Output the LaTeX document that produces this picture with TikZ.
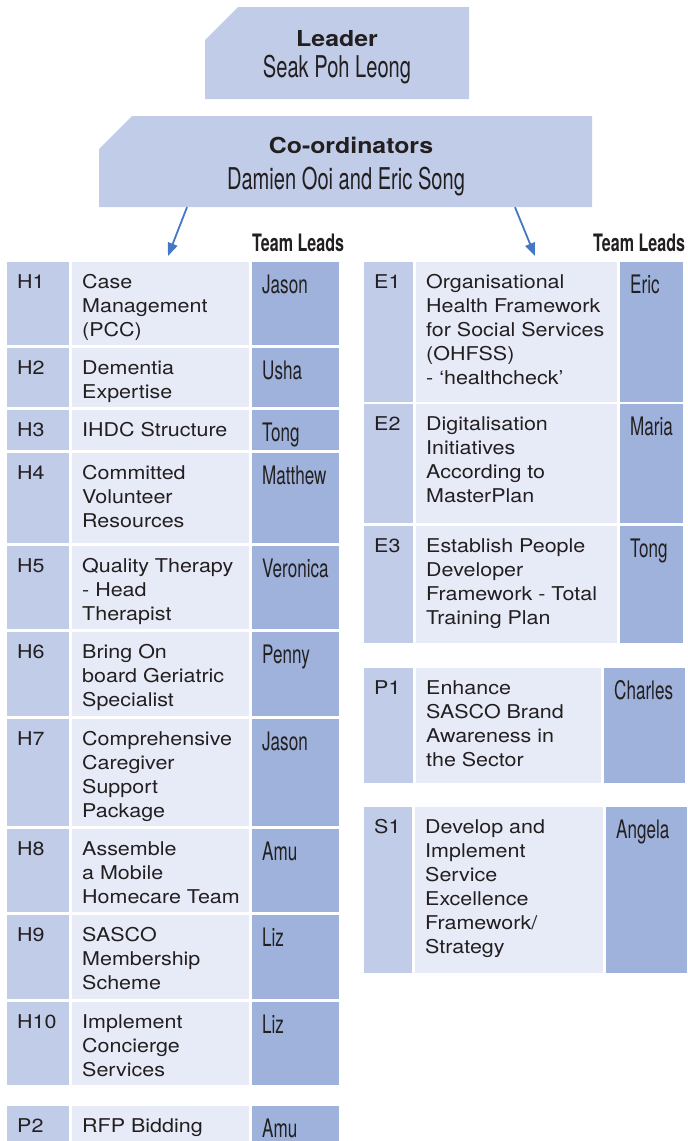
\documentclass[tikz,border=0pt]{standalone}
\usepackage{fontspec}
\setmainfont[FakeStretch=1.13]{TeX Gyre Heros}
\newfontfamily\namefont[FakeStretch=0.67]{TeX Gyre Heros}
\usepackage{xcolor}
\definecolor{ink}{RGB}{35,31,32}
\definecolor{boxblue}{RGB}{193,204,232}
\definecolor{paleblue}{RGB}{231,235,247}
\definecolor{leadblue}{RGB}{158,178,219}
\definecolor{arrowblue}{RGB}{68,119,196}
\usepackage{tikz}
\usetikzlibrary{positioning}
\usetikzlibrary{arrows.meta}
\newcommand{\codew}{62}
\newcommand{\descw}{177}
\newcommand{\leadw}{87}
\newcommand{\cut}{33pt}
\tikzset{
    cell/.style={anchor=north west, inner sep=0pt, outer sep=0pt},
    codecell/.style={cell, fill=boxblue, minimum width=\codew pt},
    desccell/.style={cell, fill=paleblue, minimum width=\descw pt},
    leadcell/.style={cell, fill=leadblue, minimum width=\leadw pt},
    bodytext/.style={anchor=north west, align=left, inner sep=0pt, text=ink, font=\fontsize{19}{24}\selectfont},
    leadtext/.style={anchor=base west, inner sep=0pt, text=ink, font=\namefont\fontsize{25.5}{28}\selectfont},
    topbox/.style={inner sep=0pt,
        path picture={
            \fill[boxblue] (path picture bounding box.south west)
                -- ([yshift=-\cut]path picture bounding box.north west)
                -- ([xshift=\cut]path picture bounding box.north west)
                -- (path picture bounding box.north east)
                -- (path picture bounding box.south east) -- cycle;
        }
    },
    headtext/.style={anchor=base, inner sep=0pt, text=ink, font=\fontsize{22}{26}\selectfont\bfseries},
    topname/.style={anchor=base, inner sep=0pt, text=ink, font=\namefont\fontsize{30}{32}\selectfont},
    teamhead/.style={anchor=base west, inner sep=0pt, text=ink, font=\namefont\fontsize{24}{26}\selectfont\bfseries},
    flow/.style={arrowblue, line width=1.8pt, -{Triangle[length=13pt, width=10pt]}}
}
% id, x, top, bottom, code, goal, team lead
\newcommand{\goalrow}[7]{%
    \node[codecell, minimum height={(#4-#3)*1pt}] (#1-c) at (#2,#3) {};
    \node[desccell, minimum height={(#4-#3)*1pt}, right=3pt of #1-c.north east, anchor=north west] (#1-d) {};
    \node[leadcell, minimum height={(#4-#3)*1pt}, right=3pt of #1-d.north east, anchor=north west] (#1-l) {};
    \node[bodytext] (#1-ct) at ([shift={(10pt,-12.3pt)}]#1-c.north west) {#5};
    \node[bodytext] (#1-dt) at ([shift={(10pt,-12.3pt)}]#1-d.north west) {#6};
    \node[leadtext] (#1-lt) at ([shift={(10pt,-31pt)}]#1-l.north west) {#7};
}

\begin{document}
\begin{tikzpicture}[x=1pt, y=-1pt]
    \useasboundingbox (0,0) rectangle (688,1141);

    \node[topbox, minimum width=264pt, minimum height=92pt] (leader) at (337,53) {};
    \node[headtext] (leader-title) at (337,46.5) {Leader};
    \node[topname] (leader-name) at (337,77) {Seak Poh Leong};

    \node[topbox, minimum width=493pt, minimum height=91pt] (coord) at (345.5,161.5) {};
    \node[headtext] (coord-title) at (351,153) {Co-ordinators};
    \node[topname] (coord-name) at (346,189) {Damien Ooi and Eric Song};

    \coordinate (ltip) at (168,256);
    \coordinate (rtip) at (535,256);
    \draw[flow] ([xshift=-158.5pt]coord.south) -- (ltip);
    \draw[flow] ([xshift=169.5pt]coord.south) -- (rtip);

    \node[teamhead] (lhead) at (252,251.5) {Team Leads};
    \node[teamhead] (rhead) at (593,251.5) {Team Leads};

    % health goals
    \goalrow{h1}{7}{262}{345}{H1}{Case\\Management\\(PCC)}{Jason}
    \goalrow{h2}{7}{348}{407}{H2}{Dementia\\Expertise}{Usha}
    \goalrow{h3}{7}{410}{450}{H3}{IHDC Structure}{Tong}
    \goalrow{h4}{7}{453}{543}{H4}{Committed\\Volunteer\\Resources}{Matthew}
    \goalrow{h5}{7}{546}{629}{H5}{Quality Therapy\\- Head\\Therapist}{Veronica}
    \goalrow{h6}{7}{632}{716}{H6}{Bring On\\board Geriatric\\Specialist}{Penny}
    \goalrow{h7}{7}{719}{826}{H7}{Comprehensive\\Caregiver\\Support\\Package}{Jason}
    \goalrow{h8}{7}{829}{912}{H8}{Assemble\\a Mobile\\Homecare Team}{Amu}
    \goalrow{h9}{7}{915}{999}{H9}{SASCO\\Membership\\Scheme}{Liz}
    \goalrow{h10}{7}{1002}{1085}{H10}{Implement\\Concierge\\Services}{Liz}
    \goalrow{p2}{7}{1106}{1150}{P2}{RFP Bidding}{Amu}

    % enabler goals
    \renewcommand{\codew}{49}\renewcommand{\descw}{201}\renewcommand{\leadw}{63}
    \goalrow{e1}{364}{262}{402}{E1}{Organisational\\Health Framework\\for Social Services\\(OHFSS)\\- `healthcheck'}{Eric}
    \goalrow{e2}{364}{404}{523}{E2}{Digitalisation\\Initiatives\\According to\\MasterPlan}{Maria}
    \goalrow{e3}{364}{526}{643}{E3}{Establish People\\Developer\\Framework - Total\\Training Plan}{Tong}

    \renewcommand{\descw}{185}\renewcommand{\leadw}{81}
    \goalrow{p1}{364}{668}{783}{P1}{Enhance\\SASCO Brand\\Awareness in\\the Sector}{Charles}

    \renewcommand{\codew}{48}\renewcommand{\descw}{188}
    \goalrow{s1}{364}{807}{973}{S1}{Develop and\\Implement\\Service\\Excellence\\Framework/\\Strategy}{Angela}
\end{tikzpicture}
\end{document}
